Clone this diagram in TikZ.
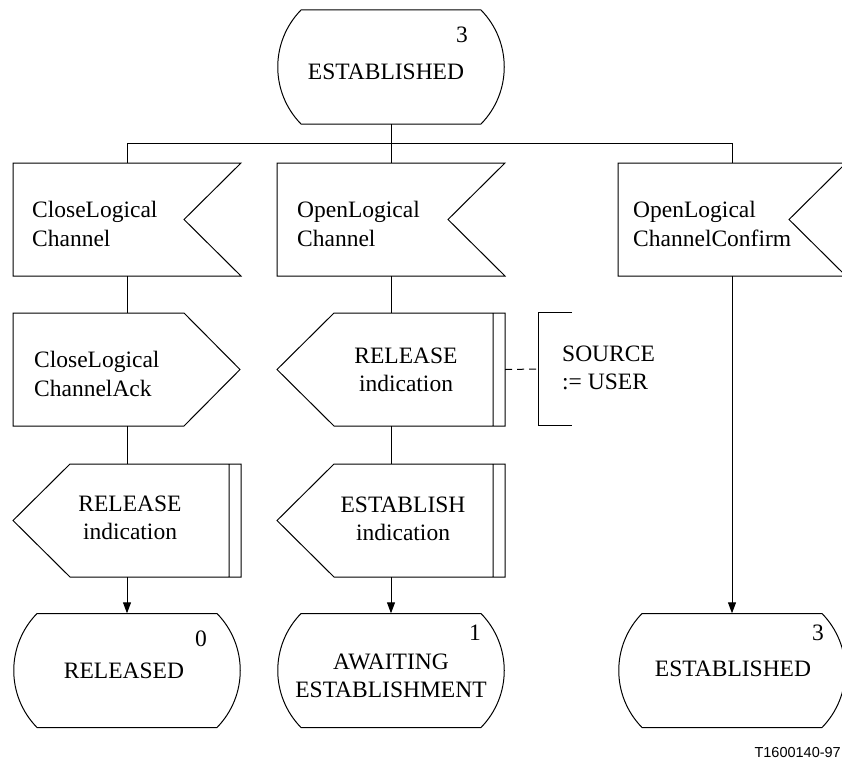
\documentclass[tikz,border=0pt]{standalone}
\usepackage{fontspec}
\setmainfont{Liberation Serif}
\newfontfamily\labelfont{Liberation Sans}
\usetikzlibrary{arrows.meta}
\newcommand\sdlstate[1]{\draw[line,shift={(#1.center)}] (-90,-57) -- (90,-57) .. controls (121,-25.2) and (121,25.2) .. (90,57) -- (-90,57) .. controls (-121,25.2) and (-121,-25.2) .. cycle;}
\newcommand\sdlinput[1]{\draw[line,shift={(#1.center)}] (-114,-56.5) -- (114,-56.5) -- (57,0) -- (114,56.5) -- (-114,56.5) -- cycle;}
\newcommand\sdloutR[1]{\draw[line,shift={(#1.center)}] (-114,-56.5) -- (57,-56.5) -- (113,0) -- (57,56.5) -- (-114,56.5) -- cycle;}
\newcommand\sdloutL[1]{\draw[line,shift={(#1.center)}] (-114,0) -- (-57,-56.5) -- (114,-56.5) -- (114,56.5) -- (-57,56.5) -- cycle (102,-56.5) -- (102,56.5);}
\begin{document}
\begin{tikzpicture}[x=1pt,y=-1pt,
  line/.style={line width=1pt},
  shapebox/.style={draw=none,inner sep=0pt,minimum width=228pt,minimum height=113pt},
  statebox/.style={shapebox,minimum height=114pt},
  txt/.style={inner sep=0pt,font=\fontsize{23.5}{28.5}\selectfont},
  num/.style={inner sep=0pt,font=\fontsize{23.5}{28.5}\selectfont},
  arr/.style={line,-{Triangle[length=11pt,width=8pt]}},
]
\clip (0,0) rectangle (842,760);
\fill[white] (0,0) rectangle (842,760);

% shape nodes
\node[statebox] (st0) at (391,67) {};
\node[shapebox] (f1) at (127,219.5) {};
\node[shapebox] (f2) at (391,219.5) {};
\node[shapebox] (f3) at (732,219.5) {};
\node[shapebox] (o1) at (127,369.5) {};
\node[shapebox] (r2) at (391,369.5) {};
\node[shapebox] (r1) at (127,520.5) {};
\node[shapebox] (e2) at (391,520.5) {};
\node[statebox] (s1) at (127,670.5) {};
\node[statebox] (s2) at (391,670.5) {};
\node[statebox] (s3) at (732,670.5) {};
\node[draw=none,inner sep=0pt,minimum width=33pt,minimum height=112pt] (cm) at (555.5,369) {};
\coordinate (bar) at (391,143);

% outlines
\sdlstate{st0}
\sdlinput{f1}
\sdlinput{f2}
\sdlinput{f3}
\sdloutR{o1}
\sdloutL{r2}
\sdloutL{r1}
\sdloutL{e2}
\sdlstate{s1}
\sdlstate{s2}
\sdlstate{s3}
\draw[line] (cm.north east) -- (cm.north west) -- (cm.south west) -- (cm.south east);

% texts
\node[num] (n0) at (462,35) {3};
\node[txt] (t0) at (386,72) {ESTABLISHED};
\node[txt,anchor=west,align=left] (tf1) at (32,224) {CloseLogical\\Channel};
\node[txt,anchor=west,align=left] (tf2) at (297,224) {OpenLogical\\Channel};
\node[txt,anchor=west,align=left] (tf3) at (633,224) {OpenLogical\\ChannelConfirm};
\node[txt,anchor=west,align=left] (to1) at (34,374) {CloseLogical\\ChannelAck};
\node[txt,align=center] (tr2) at (406,370) {RELEASE\\indication};
\node[txt,anchor=west,align=left] (tcm) at (562,368) {SOURCE\\:= USER};
\node[txt,align=center] (tr1) at (130,518) {RELEASE\\indication};
\node[txt,align=center] (te2) at (403,519) {ESTABLISH\\indication};
\node[num] (n1) at (201,639) {0};
\node[txt] (ts1) at (124,671) {RELEASED};
\node[num] (n2) at (475,633) {1};
\node[txt,align=center] (ts2) at (391,676) {AWAITING\\ESTABLISHMENT};
\node[num] (n3) at (818,633) {3};
\node[txt] (ts3) at (733,669) {ESTABLISHED};
\node[inner sep=0pt,anchor=east,font=\labelfont\fontsize{14.5}{16}\selectfont] (lbl) at (841,752) {T1600140-97};

% connectors
\draw[line] (st0.south) -- (bar);
\draw[line] (f1.north) -- (f1.north |- bar) -- (f3.north |- bar) -- (f3.north);
\draw[line] (f2.north) -- (bar);
\draw[line] (f1.south) -- (o1.north);
\draw[line] (o1.south) -- (r1.north);
\draw[arr] (r1.south) -- (s1.north);
\draw[line] (f2.south) -- (r2.north);
\draw[line] (r2.south) -- (e2.north);
\draw[arr] (e2.south) -- (s2.north);
\draw[arr] (f3.south) -- (s3.north);
\draw[line,dash pattern=on 7pt off 5pt] (r2.east) -- (cm.west);
\end{tikzpicture}
\end{document}
